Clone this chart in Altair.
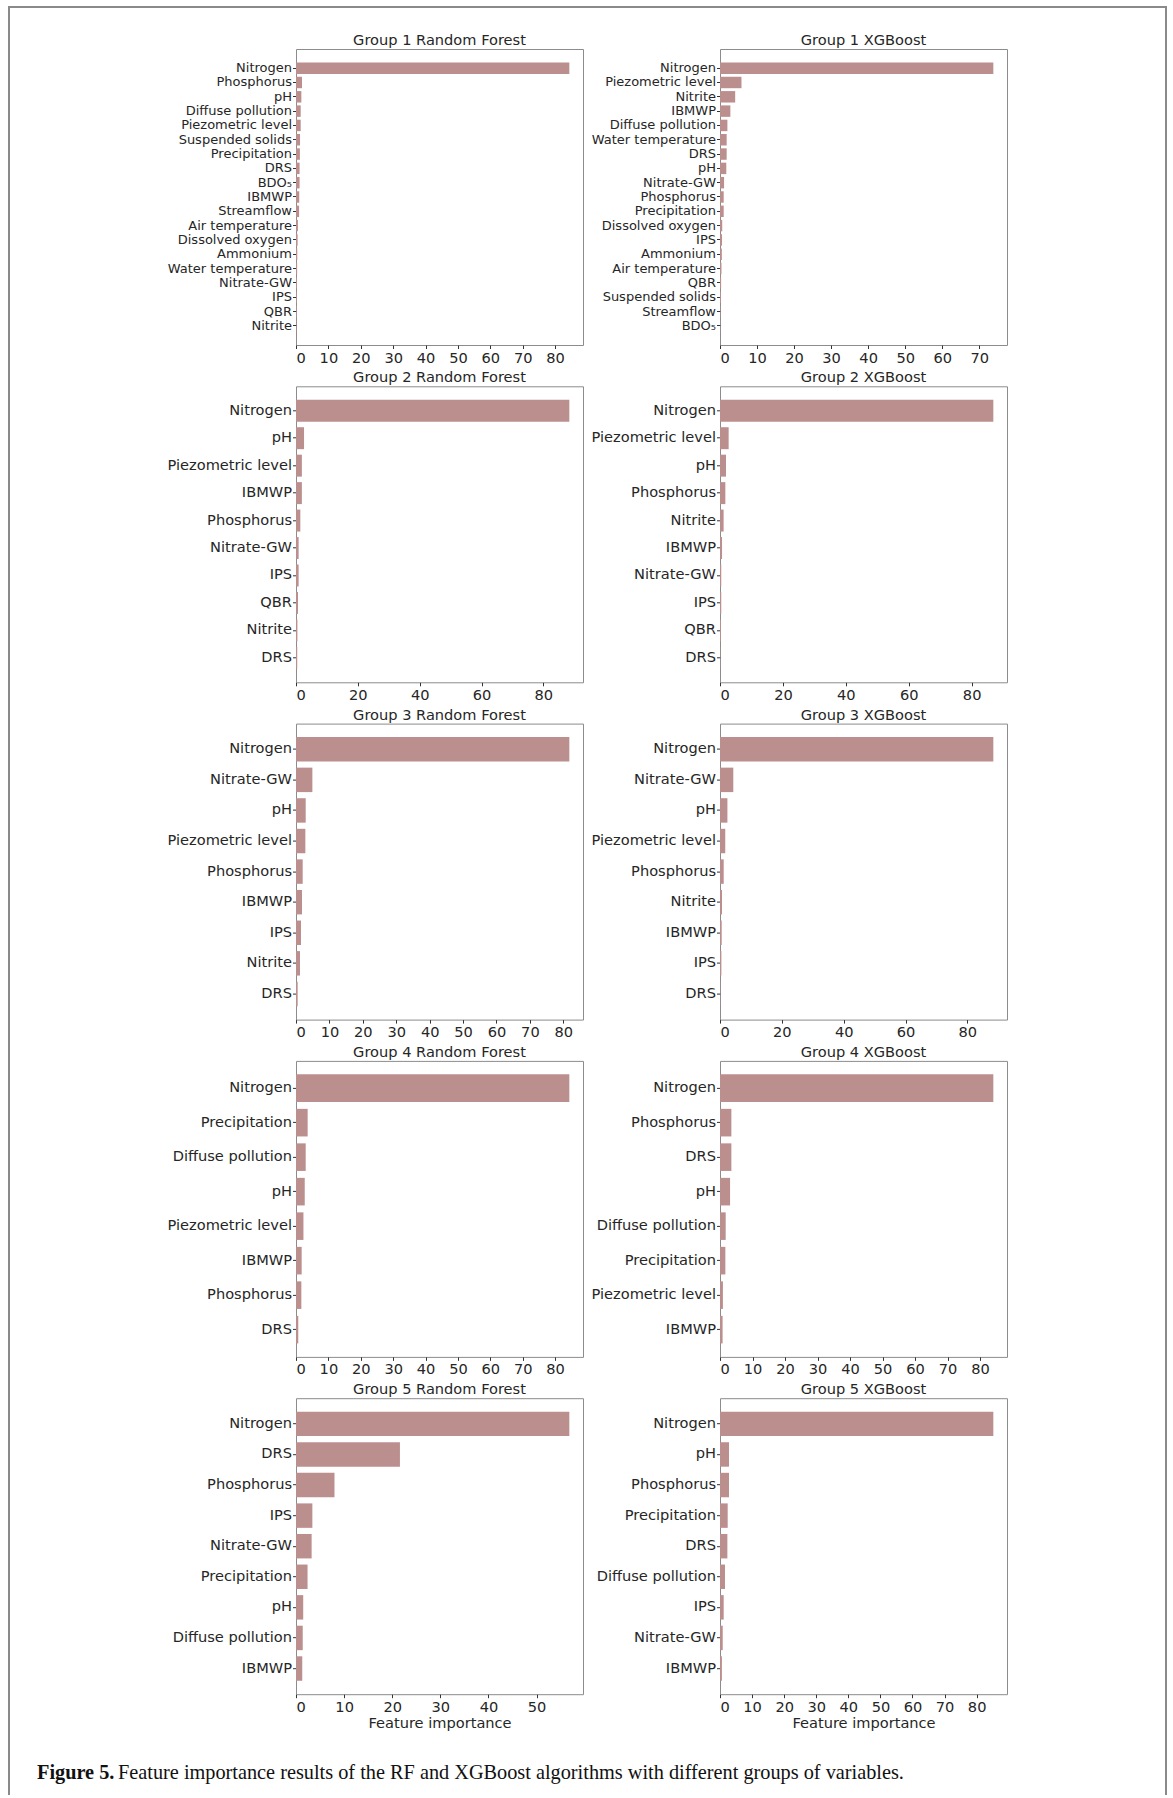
import altair as alt
import pandas as pd

FONT = "DejaVu Sans"
TXT = "#262626"
BAR = "#BC8F8F"
FRAME = "#8c8c8c"
BORDER = "#8a8a8a"

# ---------------- data ----------------
g1_rf_features = ["Nitrogen", "Phosphorus", "pH", "Diffuse pollution", "Piezometric level",
                  "Suspended solids", "Precipitation", "DRS", "BDO\u2085", "IBMWP", "Streamflow",
                  "Air temperature", "Dissolved oxygen", "Ammonium", "Water temperature",
                  "Nitrate-GW", "IPS", "QBR", "Nitrite"]
g1_rf_values = [84.4, 1.85, 1.65, 1.45, 1.45, 1.25, 1.2, 1.1, 1.1, 1.0, 0.95,
                0.6, 0.5, 0.4, 0.35, 0.3, 0.25, 0.2, 0.1]
g1_rf_ticks = [0, 10, 20, 30, 40, 50, 60, 70, 80]

g1_xgb_features = ["Nitrogen", "Piezometric level", "Nitrite", "IBMWP", "Diffuse pollution",
                   "Water temperature", "DRS", "pH", "Nitrate-GW", "Phosphorus", "Precipitation",
                   "Dissolved oxygen", "IPS", "Ammonium", "Air temperature", "QBR",
                   "Suspended solids", "Streamflow", "BDO\u2085"]
g1_xgb_values = [73.8, 5.8, 4.1, 2.8, 2.0, 1.8, 1.8, 1.7, 1.1, 1.0, 1.0,
                 0.6, 0.55, 0.5, 0.4, 0.3, 0.25, 0.1, 0.05]
g1_xgb_ticks = [0, 10, 20, 30, 40, 50, 60, 70]

g2_rf_features = ["Nitrogen", "pH", "Piezometric level", "IBMWP", "Phosphorus",
                  "Nitrate-GW", "IPS", "QBR", "Nitrite", "DRS"]
g2_rf_values = [88.4, 2.6, 1.9, 1.9, 1.4, 0.85, 0.85, 0.65, 0.45, 0.4]
g2_rf_ticks = [0, 20, 40, 60, 80]

g2_xgb_features = ["Nitrogen", "Piezometric level", "pH", "Phosphorus", "Nitrite",
                   "IBMWP", "Nitrate-GW", "IPS", "QBR", "DRS"]
g2_xgb_values = [86.9, 2.75, 1.9, 1.7, 1.15, 0.65, 0.4, 0.4, 0.3, 0.1]
g2_xgb_ticks = [0, 20, 40, 60, 80]

g3_rf_features = ["Nitrogen", "Nitrate-GW", "pH", "Piezometric level", "Phosphorus",
                  "IBMWP", "IPS", "Nitrite", "DRS"]
g3_rf_values = [81.8, 4.9, 2.9, 2.8, 2.0, 1.8, 1.5, 1.2, 0.5]
g3_rf_ticks = [0, 10, 20, 30, 40, 50, 60, 70, 80]

g3_xgb_features = ["Nitrogen", "Nitrate-GW", "pH", "Piezometric level", "Phosphorus",
                   "Nitrite", "IBMWP", "IPS", "DRS"]
g3_xgb_values = [88.4, 4.3, 2.4, 1.7, 1.2, 0.65, 0.55, 0.45, 0.1]
g3_xgb_ticks = [0, 20, 40, 60, 80]

g4_rf_features = ["Nitrogen", "Precipitation", "Diffuse pollution", "pH",
                  "Piezometric level", "IBMWP", "Phosphorus", "DRS"]
g4_rf_values = [84.4, 3.6, 3.0, 2.7, 2.3, 1.75, 1.65, 0.7]
g4_rf_ticks = [0, 10, 20, 30, 40, 50, 60, 70, 80]

g4_xgb_features = ["Nitrogen", "Phosphorus", "DRS", "pH", "Diffuse pollution",
                   "Precipitation", "Piezometric level", "IBMWP"]
g4_xgb_values = [84.1, 3.5, 3.5, 3.1, 1.75, 1.65, 0.9, 0.8]
g4_xgb_ticks = [0, 10, 20, 30, 40, 50, 60, 70, 80]

g5_rf_features = ["Nitrogen", "DRS", "Phosphorus", "IPS", "Nitrate-GW",
                  "Precipitation", "pH", "Diffuse pollution", "IBMWP"]
g5_rf_values = [56.8, 21.6, 8.0, 3.4, 3.25, 2.4, 1.5, 1.4, 1.3]
g5_rf_ticks = [0, 10, 20, 30, 40, 50]

g5_xgb_features = ["Nitrogen", "pH", "Phosphorus", "Precipitation", "DRS",
                   "Diffuse pollution", "IPS", "Nitrate-GW", "IBMWP"]
g5_xgb_values = [85.2, 2.8, 2.8, 2.4, 2.3, 1.55, 1.15, 0.85, 0.6]
g5_xgb_ticks = [0, 10, 20, 30, 40, 50, 60, 70, 80]

panel_titles = ["Group 1 Random Forest", "Group 1 XGBoost",
                "Group 2 Random Forest", "Group 2 XGBoost",
                "Group 3 Random Forest", "Group 3 XGBoost",
                "Group 4 Random Forest", "Group 4 XGBoost",
                "Group 5 Random Forest", "Group 5 XGBoost"]

x_axis_title = "Feature importance"
caption_bold = "Figure 5."
caption_text = "Feature importance results of the RF and XGBoost algorithms with different groups of variables."

panels_data = [
    (g1_rf_features, g1_rf_values, g1_rf_ticks),
    (g1_xgb_features, g1_xgb_values, g1_xgb_ticks),
    (g2_rf_features, g2_rf_values, g2_rf_ticks),
    (g2_xgb_features, g2_xgb_values, g2_xgb_ticks),
    (g3_rf_features, g3_rf_values, g3_rf_ticks),
    (g3_xgb_features, g3_xgb_values, g3_xgb_ticks),
    (g4_rf_features, g4_rf_values, g4_rf_ticks),
    (g4_xgb_features, g4_xgb_values, g4_xgb_ticks),
    (g5_rf_features, g5_rf_values, g5_rf_ticks),
    (g5_xgb_features, g5_xgb_values, g5_xgb_ticks),
]

PW, PH = 287, 296
panel_view = alt.ViewBackground(stroke=FRAME, strokeWidth=1)
no_view = alt.ViewBackground(stroke="transparent")


def make_panel(title, feats, vals, ticks, bottom):
    n = len(feats)
    df = pd.DataFrame({"feature": feats, "importance": vals})
    label_size = 13 if n > 12 else 14.6
    x_kwargs = dict(values=ticks, format="d", grid=False, domain=False,
                    tickSize=3.5, tickColor="#333333", tickWidth=1,
                    labelPadding=1.5, labelFontSize=14.6, labelFont=FONT,
                    labelColor=TXT)
    if bottom:
        x_kwargs.update(title=x_axis_title, titleFont=FONT, titleFontSize=14.6,
                        titleFontWeight="normal", titleColor=TXT, titlePadding=2)
    else:
        x_kwargs.update(title=None)
    return alt.Chart(df).mark_bar(color=BAR).encode(
        x=alt.X("importance:Q",
                scale=alt.Scale(domain=[0, max(vals) * 1.05], nice=False, zero=True),
                axis=alt.Axis(**x_kwargs)),
        y=alt.Y("feature:N", sort=feats,
                scale=alt.Scale(paddingInner=0.2, paddingOuter=0.05 * (n - 0.2)),
                axis=alt.Axis(title=None, grid=False, domain=False, bandPosition=0.5,
                              tickSize=3.5, tickColor="#333333", tickWidth=1,
                              labelPadding=1, labelFontSize=label_size, labelFont=FONT,
                              labelColor=TXT, labelLimit=300)),
    ).properties(
        width=PW, height=PH, view=panel_view,
        title=alt.Title(title, font=FONT, fontSize=14.6, fontWeight="normal",
                        color=TXT, offset=1.5, anchor="middle", frame="group"),
    )


panels = []
for i, (t, (f, v, tk)) in enumerate(zip(panel_titles, panels_data)):
    panels.append(make_panel(t, f, v, tk, bottom=(i >= 8)))

grid = alt.concat(*panels, columns=2, align="each",
                  spacing={"row": 3.3, "column": 6})

# ---------------- figure frame + caption ----------------
FR_LEFT, FR_RIGHT = -286, 868      # horizontal extent of the frame, relative to first plot
FR_H = 1787                        # frame height (runs off the bottom of the page)
TOP_GAP = 24.5
CAP_Y = 41

dot = pd.DataFrame({"v": [0]})


def hrule(y):
    return alt.Chart(dot).mark_rule(color=BORDER, strokeWidth=2, strokeCap="square").encode(
        x=alt.value(FR_LEFT), x2=alt.value(FR_RIGHT), y=alt.value(y))


def vline():
    return alt.Chart(dot).mark_rule(color=BORDER, strokeWidth=2, strokeCap="square").encode(
        x=alt.value(0), y=alt.value(0), y2=alt.value(FR_H)
    ).properties(width=1, height=FR_H, view=no_view)


top_piece = hrule(0).properties(width=1, height=TOP_GAP, view=no_view)

CAP_X = -259
cap_bold_df = pd.DataFrame({"text": [caption_bold]})
cap_text_df = pd.DataFrame({"text": [caption_text]})
cap_bold = alt.Chart(cap_bold_df).mark_text(
    font="Liberation Serif", fontSize=20.3, fontWeight="bold", align="left",
    baseline="middle", color="#111111"
).encode(x=alt.value(CAP_X), y=alt.value(CAP_Y), text="text:N")
cap_rest = alt.Chart(cap_text_df).mark_text(
    font="Liberation Serif", fontSize=20.3, fontWeight="normal", align="left",
    baseline="middle", color="#111111"
).encode(x=alt.value(CAP_X + 81), y=alt.value(CAP_Y), text="text:N")
caption = alt.layer(cap_bold, cap_rest).properties(
    width=1, height=55, view=no_view)

middle = alt.vconcat(top_piece, grid, caption, spacing=0)

chart = alt.hconcat(vline(), middle, vline(), spacing=-3).properties(
    padding={"left": 7, "top": 5, "right": 2, "bottom": 0},
    background="white",
)

chart.save("out.html", embed_options={"renderer": "svg", "actions": False})
